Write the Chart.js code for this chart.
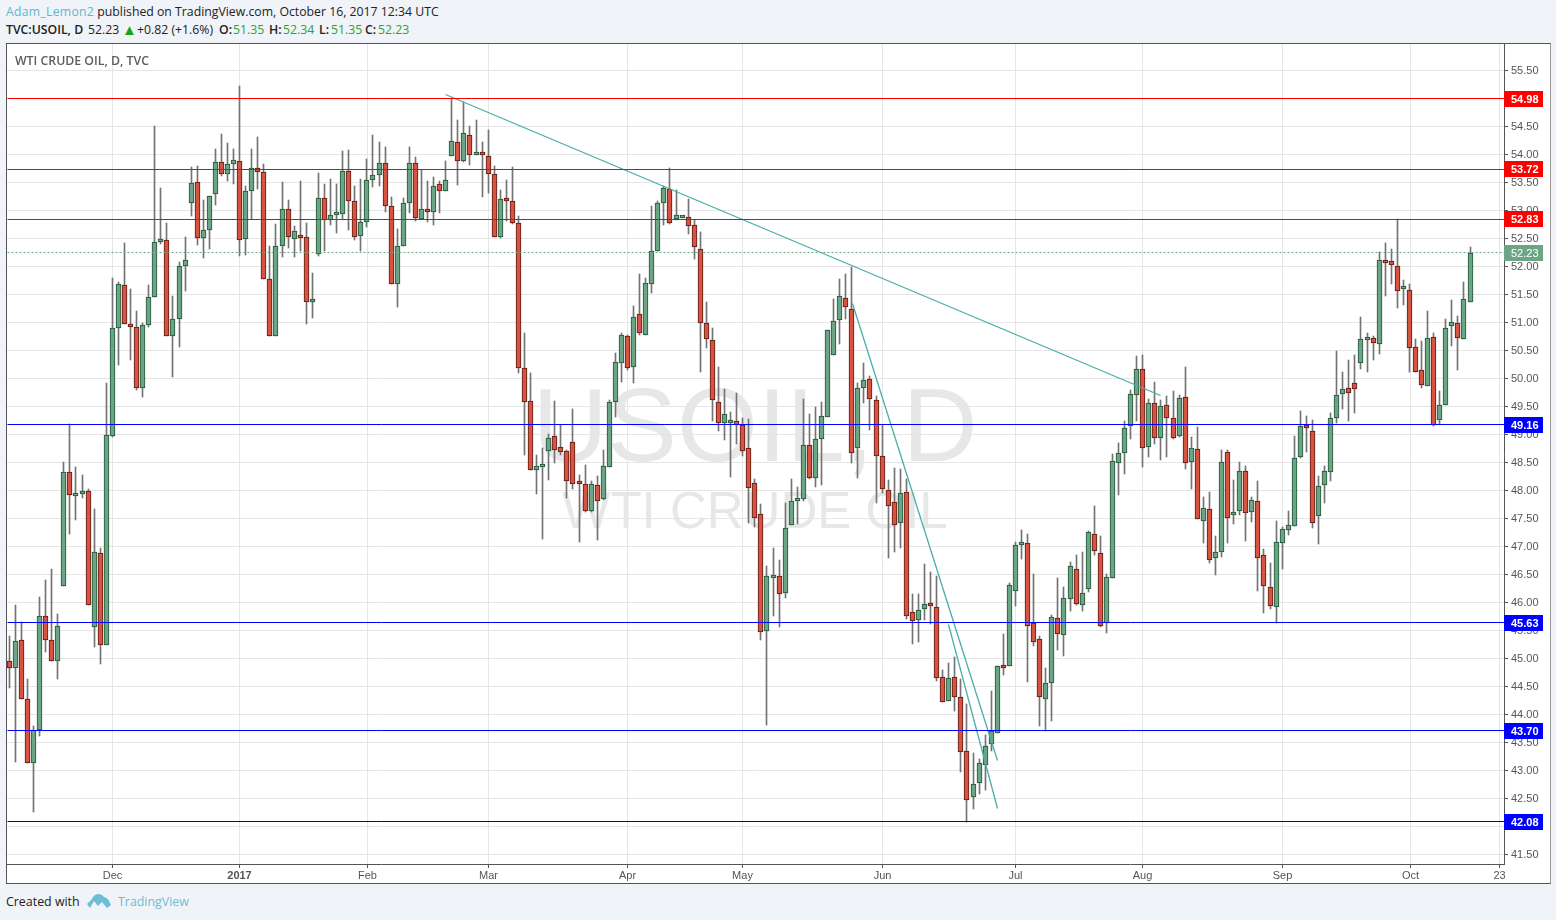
<!DOCTYPE html>
<html>
<head>
<meta charset="utf-8">
<title>WTI CRUDE OIL, D, TVC</title>
<script src="https://cdn.jsdelivr.net/npm/chart.js@4/dist/chart.umd.min.js"></script>
<style>
    html, body { margin: 0; padding: 0; width: 1556px; height: 920px; overflow: hidden; background: #f0f3f7; }
    body { font-family: "Open Sans", sans-serif; color: #222; position: relative; }
    .line1 { position: absolute; left: 6px; top: 3px; font-size: 12.27px; line-height: 17px; white-space: nowrap; }
    .line2 span { position: absolute; top: 21px; font-size: 12.27px; line-height: 17px; white-space: nowrap; }
    .line1 a { color: #5fb6d3; letter-spacing: 0.25px; }
    .foot a { color: #6fbcd6; text-decoration: none; }
    .line2 .b { font-weight: 600; }
    .line2 .g { color: #2aa52a; }
    .line2 .tri { color: #19a519; font-size: 15px; }
    #box { position: absolute; left: 6px; top: 43px; width: 1543px; height: 839px; background: #fff; border: 1px solid #555; border-right-color: #999; }
    #box canvas { position: absolute; left: 0; top: 0; }
    .wm { position: absolute; font-family: "Liberation Sans", Arial, sans-serif; color: #e6e7e7; white-space: nowrap; width: 600px; text-align: center; }
    #wm1 { left: 448px; top: 329px; font-size: 104px; line-height: 104px; }
    #wm2 { left: 448px; top: 441px; font-size: 51px; line-height: 51px; }
    #name { position: absolute; left: 8px; top: 9px; font-size: 12.3px; line-height: 16px; font-weight: 600; color: #5d5d5d; }
    .foot { position: absolute; left: 6px; top: 893px; font-size: 12.4px; line-height: 18px; white-space: nowrap; }
    .foot a { position: absolute; left: 112px; top: 0; }
    .foot svg { position: absolute; left: 81px; top: 0; }
</style>
</head>
<body>
<div class="line1"><a>Adam_Lemon2</a> published on TradingView.com, October 16, 2017 12:34 UTC</div>
<div class="line2">
    <span class="b" style="left:6px">TVC:USOIL, D</span>
    <span style="left:88px">52.23</span>
    <span class="tri" style="left:122px">▲</span>
    <span style="left:137px">+0.82 (+1.6%)</span>
    <span class="b" style="left:219px">O:</span><span class="g" style="left:233px">51.35</span>
    <span class="b" style="left:269px">H:</span><span class="g" style="left:283px">52.34</span>
    <span class="b" style="left:319px">L:</span><span class="g" style="left:331px">51.35</span>
    <span class="b" style="left:365px">C:</span><span class="g" style="left:378px">52.23</span>
</div>
<div id="box">
    <div class="wm" id="wm1">USOIL, D</div>
    <div class="wm" id="wm2">WTI CRUDE OIL</div>
    <canvas id="chart" width="1543" height="839"></canvas>
    <div id="name">WTI CRUDE OIL, D, TVC</div>
</div>
<div class="foot">Created with
    <svg width="24" height="16" viewBox="0 0 24 16"><path fill="#6fbcd6" d="M0 11 L5 6 Q7 1 12 1 Q15 1 17 4 Q21 5 22 8 L24 12 L20 15 L15 9 L11 13 L7 8 L3 15 Z"/></svg>
    <a>TradingView</a>
</div>

<script>
// daily candles
const opens = [
    44.95,44.83,45.32,44.27,43.12,43.71,45.75,45.32,44.94,46.29,
    48.32,47.89,47.93,47.98,45.56,46.88,45.23,48.96,50.89,51.65,
    50.96,50.90,49.81,50.94,51.45,52.42,52.45,50.74,51.04,52.00,
    53.12,53.50,52.50,52.64,53.27,53.85,53.63,53.82,53.87,52.47,
    53.33,53.75,53.68,51.77,50.74,52.35,53.02,52.48,52.52,52.52,
    51.35,52.20,53.20,52.82,52.91,52.93,53.69,53.16,52.53,52.78,
    53.53,53.62,53.84,53.07,51.68,52.35,53.12,53.84,52.84,53.02,
    52.96,53.45,53.34,53.96,54.21,53.86,54.34,53.98,54.02,53.95,
    53.64,52.52,53.19,53.15,52.76,50.17,49.58,48.35,48.41,48.70,
    48.97,48.77,48.69,48.86,48.12,48.11,47.63,48.08,47.84,48.40,
    49.56,50.27,50.74,50.20,51.13,50.77,51.67,52.27,53.11,53.36,
    52.83,52.85,52.86,52.72,52.29,50.97,50.67,49.56,49.19,49.19,
    49.22,49.15,48.75,48.12,47.57,45.48,46.43,46.46,46.16,47.38,
    47.80,47.84,48.80,48.21,48.91,49.30,50.40,51.03,51.42,51.23,
    48.75,49.81,49.98,49.61,48.61,48.00,47.78,47.41,47.97,45.82,
    45.68,45.88,45.98,45.91,44.66,44.24,44.66,44.31,43.34,42.52,
    42.77,43.09,43.47,43.66,44.86,44.86,46.20,47.02,47.05,45.62,
    45.34,44.27,44.55,45.71,45.41,46.05,46.59,45.95,46.23,47.21,
    46.87,45.62,46.43,48.48,48.66,49.14,49.70,50.16,48.77,49.55,
    48.93,49.52,49.28,48.96,49.66,48.50,48.73,47.45,47.66,46.78,
    46.89,48.68,47.55,47.62,48.34,47.61,47.80,46.84,46.27,45.91,
    47.06,47.29,47.36,48.58,49.12,49.05,47.54,48.09,48.32,49.28,
    49.71,49.81,49.91,50.26,50.67,50.71,50.60,52.08,52.08,51.99,
    51.58,51.57,50.55,50.14,49.85,50.73,49.25,49.52,50.92,50.98,50.69,51.35
];
const highs = [
    45.39,45.94,45.64,44.63,43.79,46.08,46.40,46.58,45.78,48.50,
    49.17,48.41,48.26,48.02,47.65,46.97,49.90,51.78,51.71,52.41,
    51.59,51.19,50.97,51.65,54.49,53.38,52.76,51.46,52.06,52.51,
    53.76,53.78,53.17,53.25,54.08,54.35,54.19,54.08,55.21,53.42,
    54.09,54.29,53.81,52.35,52.75,53.49,53.17,52.70,53.51,52.77,
    51.87,53.65,53.45,53.54,53.46,54.04,54.06,53.43,53.54,53.90,
    54.33,54.20,54.11,53.22,52.65,53.20,54.11,53.93,53.70,53.51,
    53.58,53.51,53.86,55.00,54.60,54.92,54.49,54.60,54.20,54.42,
    53.77,53.35,53.53,53.76,52.89,50.80,50.08,48.63,48.74,48.99,
    49.58,49.16,48.72,49.44,48.27,48.44,48.16,48.24,48.71,49.60,
    50.44,50.79,50.77,51.28,51.85,51.78,53.07,53.16,53.42,53.75,
    53.35,52.88,53.19,52.81,52.60,51.35,50.89,50.19,49.80,49.39,
    49.73,49.28,49.26,48.19,47.74,46.64,46.97,46.75,47.76,48.19,
    48.06,49.63,49.36,49.47,49.57,50.85,51.41,51.77,51.85,51.97,
    49.90,50.27,50.04,49.68,49.15,48.17,48.39,48.38,48.20,46.15,
    46.15,46.68,46.54,46.46,44.78,44.92,45.02,44.63,44.18,43.30,
    43.19,43.63,44.41,44.86,45.42,46.33,47.07,47.28,47.22,46.50,
    45.40,44.82,45.77,46.43,46.26,46.72,46.84,46.90,47.27,47.72,
    47.18,46.50,48.64,48.84,49.22,49.79,50.38,50.40,49.62,49.93,
    49.61,49.68,49.77,49.70,50.20,48.95,49.13,47.88,47.97,47.17,
    48.72,48.72,48.18,48.49,48.42,47.88,48.15,46.94,46.69,47.44,
    47.33,47.63,48.97,49.40,49.31,49.24,48.24,48.42,49.38,50.47,
    50.11,50.31,50.40,51.09,50.79,50.74,52.25,52.41,52.30,52.83,
    51.75,51.68,50.70,50.65,51.20,50.79,49.77,51.04,51.39,51.11,51.70,52.34
];
const lows = [
    44.47,43.15,44.27,43.12,42.26,43.61,45.11,44.94,44.63,46.29,
    47.22,47.46,47.85,45.95,45.20,44.89,45.23,48.94,50.23,50.96,
    50.32,49.78,49.66,50.91,51.45,52.39,50.74,50.01,50.55,51.55,
    52.89,52.37,52.13,52.30,53.08,53.60,53.51,53.46,52.17,52.19,
    52.84,53.37,51.77,50.74,50.74,52.15,52.31,52.15,52.27,50.96,
    51.06,52.17,52.26,52.72,52.59,52.84,52.63,52.46,52.27,52.69,
    53.40,53.43,52.96,51.68,51.26,52.35,52.94,52.80,52.84,52.78,
    52.72,52.94,53.34,53.96,53.44,53.85,53.80,53.98,53.22,53.30,
    52.51,52.50,52.79,52.75,50.08,48.63,48.35,47.93,47.13,48.18,
    48.48,48.63,47.86,48.02,47.07,47.61,47.61,47.11,47.82,48.40,
    49.30,49.93,50.13,49.91,50.76,50.77,51.51,52.27,52.73,52.75,
    52.82,52.85,52.57,52.12,50.10,50.53,49.23,49.05,48.89,48.23,
    48.82,48.60,47.41,47.33,45.33,43.80,45.75,45.55,46.07,47.38,
    47.39,47.80,48.19,48.06,48.08,49.30,50.40,50.61,51.05,48.48,
    48.22,49.55,49.06,47.76,47.94,46.78,46.90,46.97,45.70,45.25,
    45.29,45.68,45.61,44.59,44.21,44.23,44.06,42.97,42.08,42.30,
    42.57,42.65,43.35,43.66,44.69,44.85,45.93,46.77,44.57,45.21,
    43.79,43.70,43.87,45.15,45.03,45.83,45.94,45.84,46.17,46.84,
    45.56,45.44,46.42,47.90,48.29,48.90,49.22,48.40,48.58,48.81,
    48.54,48.58,48.90,48.95,48.38,48.02,47.48,47.06,46.70,46.49,
    46.81,47.06,47.40,47.56,47.09,47.42,46.19,45.80,45.87,45.63,
    46.59,47.19,47.36,48.57,48.67,47.32,47.03,47.76,48.15,49.19,
    49.45,49.22,49.37,50.16,50.11,50.32,50.43,51.46,51.68,51.25,
    51.29,50.11,50.10,49.81,49.85,49.14,49.18,49.51,50.57,50.13,50.69,51.35
];
const closes = [
    44.83,45.31,44.27,43.12,43.71,45.75,45.32,44.94,45.58,48.32,
    47.90,47.93,47.98,45.95,46.90,45.23,48.98,50.89,51.67,50.96,
    50.90,49.81,50.94,51.45,52.42,52.45,50.74,51.05,52.00,52.11,
    53.47,52.50,52.64,53.25,53.85,53.63,53.82,53.88,52.45,53.34,
    53.75,53.67,51.77,50.74,52.35,53.02,52.51,52.62,52.50,51.36,
    51.37,53.20,52.82,52.91,52.93,53.69,53.16,52.52,52.78,53.53,
    53.62,53.84,53.07,51.68,52.35,53.12,53.84,52.85,53.02,52.96,
    53.43,53.34,53.53,54.23,53.86,54.36,53.98,54.02,53.98,53.64,
    52.51,53.19,53.15,52.76,50.17,49.56,48.35,48.43,48.47,48.92,
    48.72,48.67,48.15,48.11,48.11,47.63,48.11,47.80,48.43,49.56,
    50.29,50.77,50.18,51.08,50.79,51.69,52.26,53.11,53.38,52.77,
    52.90,52.87,52.70,52.33,50.97,50.69,49.60,49.19,49.35,49.20,
    49.15,48.70,48.03,47.50,45.46,46.46,46.46,46.14,47.32,47.80,
    47.81,48.80,48.21,48.91,49.32,50.85,51.01,51.46,51.26,48.65,
    49.82,49.96,49.62,48.60,48.02,47.71,47.38,47.95,45.75,45.66,
    45.86,45.96,45.93,44.65,44.22,44.65,44.31,43.32,42.47,42.75,
    43.13,43.43,43.69,44.86,44.82,46.30,47.02,47.05,45.57,45.29,
    44.30,44.55,45.73,45.43,46.07,46.64,45.96,46.16,47.25,46.91,
    45.57,46.45,48.52,48.66,49.11,49.71,50.16,48.75,49.55,48.93,
    49.50,49.28,48.93,49.64,48.48,48.75,47.48,47.68,46.75,46.89,
    48.50,47.50,47.59,48.34,47.59,47.82,46.79,46.28,45.93,47.07,
    47.31,47.38,48.57,49.14,49.11,47.41,48.07,48.34,49.28,49.69,
    49.80,49.73,49.80,50.69,50.69,50.62,52.10,52.04,52.01,51.55,
    51.60,50.53,50.10,49.87,50.71,49.16,49.52,50.89,50.99,50.71,51.41,52.23
];

// month ticks, given as positions in candle numbers
const tickBars = [17.1, 38.05, 59.17, 79.13, 102.06, 121.03, 144.13, 166.06, 187, 210.1, 231.1, 245.9];
const tickLabels = ['Dec', '2017', 'Feb', 'Mar', 'Apr', 'May', 'Jun', 'Jul', 'Aug', 'Sep', 'Oct', '23'];

// horizontal levels drawn on the chart
const redLevels = [54.98, 53.72, 52.83];
const blueLevels = [49.16, 45.63, 43.70];
const darkLevels = [42.08];
const lastPrice = 52.23;

// trend lines: candle number and price at both ends
const trendBars = [[72.04, 189.9], [139.06, 162.98], [155, 162.98]];
const trendPrices = [[55.05, 49.69], [51.32, 43.18], [45.60, 42.31]];

const xMin = -0.38;
const xMax = 246.6;
const yMin = 41.325;
const yMax = 55.955;

const upFill = '#6ba583', downFill = '#d75442';
const upEdge = '#225437', downEdge = '#5b1a13';
const wickColor = '#737375';
const levelRed = '#ff0000', levelBlue = '#0000ff', levelDark = '#0000c0';

function levelDataset(price, color, dash) {
    return {
        type: 'line',
        yAxisID: 'yLine',
        data: [{ x: xMin, y: price }, { x: xMax, y: price }],
        borderColor: color,
        borderWidth: 1,
        borderDash: dash || [],
        pointRadius: 0,
        order: 0
    };
}

const isUp = closes.map((c, i) => c >= opens[i]);

const datasets = [
    {
        label: 'wicks',
        data: closes.map((c, i) => ({ x: i, y: [lows[i], highs[i]] })),
        backgroundColor: wickColor,
        borderWidth: 0,
        barThickness: 1,
        grouped: false,
        order: 3
    },
    {
        label: 'bodies',
        data: closes.map((c, i) => ({ x: i, y: [opens[i], c] })),
        backgroundColor: isUp.map(u => u ? upFill : downFill),
        borderColor: isUp.map(u => u ? upEdge : downEdge),
        borderWidth: 1,
        borderSkipped: false,
        barThickness: 5,
        minBarLength: 3,
        grouped: false,
        order: 2
    },
    levelDataset(lastPrice, upFill, [2, 2])
];
redLevels.forEach(p => datasets.push(levelDataset(p, levelRed)));
blueLevels.forEach(p => datasets.push(levelDataset(p, levelBlue)));
darkLevels.forEach(p => datasets.push(levelDataset(p, levelDark)));
trendBars.forEach((bars, i) => {
    datasets.push({
        type: 'line',
        yAxisID: 'yLine',
        data: [{ x: bars[0], y: trendPrices[i][0] }, { x: bars[1], y: trendPrices[i][1] }],
        borderColor: '#4aaeaa',
        borderWidth: 1.3,
        pointRadius: 0,
        order: 0
    });
});

// price tags on the right hand axis
const priceTags = {
    id: 'priceTags',
    afterDraw(chart) {
        const ctx = chart.ctx;
        const y = chart.scales.y;
        const area = chart.chartArea;
        const left = area.right;
        // the last date label is cut off by the price axis
        ctx.fillStyle = '#fff';
        ctx.fillRect(left + 1, area.bottom + 1, 30, 17);
        const tag = (price, color, bold) => {
            const py = Math.round(y.getPixelForValue(price));
            ctx.save();
            ctx.fillStyle = color;
            ctx.fillRect(left, py - 8, 39, 16);
            ctx.fillStyle = '#fff';
            ctx.font = (bold ? 'bold ' : '') + '11px "Liberation Sans", Arial, sans-serif';
            ctx.textBaseline = 'middle';
            ctx.fillText(price.toFixed(2), left + 7, py + 1);
            ctx.restore();
        };
        tag(lastPrice, upFill, false);
        redLevels.forEach(p => tag(p, levelRed, true));
        blueLevels.forEach(p => tag(p, levelBlue, true));
        darkLevels.forEach(p => tag(p, levelBlue, true));
    }
};

function noPadding(axis) {
    axis.paddingTop = 0;
    axis.paddingBottom = 0;
    axis.paddingLeft = 0;
    axis.paddingRight = 0;
}

// keep marks on whole pixels so the candles stay sharp like the original
function snapToPixels(axis, shift) {
    const base = Object.getPrototypeOf(axis).getPixelForValue;
    axis.getPixelForValue = v => Math.round(base.call(axis, v) - shift) + shift;
}

new Chart(document.getElementById('chart'), {
    type: 'bar',
    data: { datasets: datasets },
    plugins: [priceTags],
    options: {
        responsive: false,
        animation: false,
        devicePixelRatio: 1,
        layout: { padding: 0 },
        plugins: { legend: { display: false }, tooltip: { enabled: false } },
        scales: {
            x: {
                type: 'linear',
                min: xMin,
                max: xMax,
                offset: false,
                grid: { offset: false, color: '#e6e6e6', tickColor: '#555', tickLength: 4 },
                border: { color: '#555' },
                afterDataLimits: axis => snapToPixels(axis, 0.5),
                afterBuildTicks: axis => { axis.ticks = tickBars.map(v => ({ value: v })); },
                afterFit: axis => { axis.height = 19; noPadding(axis); },
                ticks: {
                    autoSkip: false,
                    maxRotation: 0,
                    padding: 1,
                    color: '#555',
                    font: ctx => ({
                        family: '"Liberation Sans", Arial, sans-serif',
                        size: 11,
                        weight: ctx.tick && ctx.tick.label === '2017' ? 'bold' : 'normal'
                    }),
                    callback: v => tickLabels[tickBars.indexOf(v)]
                }
            },
            y: {
                position: 'right',
                min: yMin,
                max: yMax,
                grid: { color: '#e6e6e6', tickColor: '#555', tickLength: 4 },
                border: { color: '#555' },
                afterDataLimits: axis => snapToPixels(axis, 0),
                afterFit: axis => { axis.width = 46; noPadding(axis); },
                ticks: {
                    stepSize: 0.5,
                    includeBounds: false,
                    padding: 3,
                    labelOffset: 1,
                    color: '#555',
                    font: { family: '"Liberation Sans", Arial, sans-serif', size: 11 },
                    callback: v => v.toFixed(2)
                }
            },
            // same range as y, only for the thin lines, which sit on pixel centres
            yLine: {
                display: false,
                position: 'right',
                min: yMin,
                max: yMax,
                afterDataLimits: axis => snapToPixels(axis, 0.5)
            }
        }
    }
});
</script>
</body>
</html>
